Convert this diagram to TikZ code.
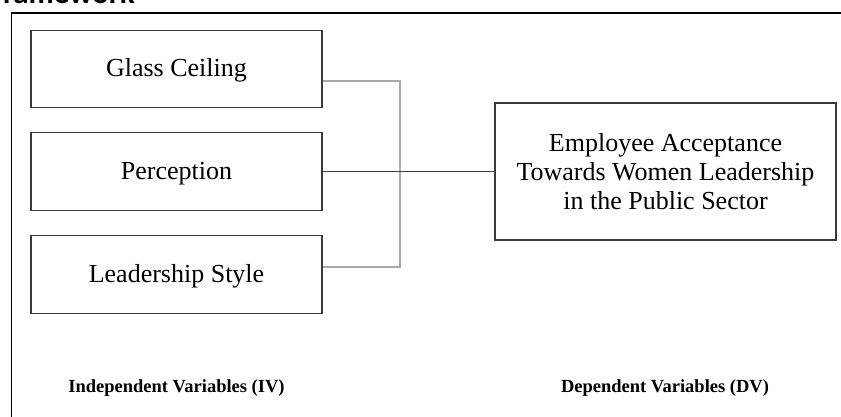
\documentclass[tikz,border=0pt]{standalone}
\usepackage{fontspec}
\setmainfont{Liberation Serif}
\newfontfamily\capfont{Carlito}
\definecolor{boxgray}{HTML}{3A3A3A}
\definecolor{linegray}{HTML}{A8A8A8}
\definecolor{darkline}{HTML}{404040}
\begin{document}
\begin{tikzpicture}[x=1pt,y=-1pt,
  ivbox/.style={draw=boxgray, line width=1.2pt, minimum width=291pt, minimum height=77.5pt,
    inner sep=0pt, font=\fontsize{26}{30}\selectfont, text height=18pt, text depth=3pt},
  dvbox/.style={draw=boxgray, line width=1.2pt, minimum width=341pt, minimum height=137pt,
    inner sep=0pt, align=center, font=\fontsize{26}{29}\selectfont},
  lightconn/.style={draw=linegray, line width=1.1pt},
  darkconn/.style={draw=darkline, line width=1.1pt},
  lab/.style={font=\bfseries\fontsize{18.5}{22}\selectfont, inner sep=0pt, anchor=base}
]
\useasboundingbox (0,0) rectangle (841,417);
% outer frame
\draw[line width=1.3pt] (11.5,440) -- (11.5,13) -- (860,13);
% title (cut off at the top)
\node[font=\capfont\bfseries\fontsize{31}{36}\selectfont, anchor=base east, inner sep=0pt] (title) at (135,4) {Framework};
% independent variable boxes
\node[ivbox] (gc) at (176.5,69) {Glass Ceiling};
\node[ivbox] (pc) at (176.5,171.5) {Perception};
\node[ivbox] (ls) at (176.5,274.5) {Leadership Style};
% dependent variable box
\node[dvbox] (dv) at (665.5,171.5) {Employee Acceptance\\Towards Women Leadership\\in the Public Sector};
% connectors
\coordinate (j1) at (400,81);
\coordinate (j2) at (400,267);
\draw[lightconn] (gc.east |- j1) -- (j1) -- (j2) -- (ls.east |- j2);
\draw[darkconn] (pc.east) -- (dv.west);
% bottom labels
\node[lab] (ivl) at (176.5,392) {Independent Variables (IV)};
\node[lab] (dvl) at (665,392) {Dependent Variables (DV)};
\end{tikzpicture}
\end{document}
